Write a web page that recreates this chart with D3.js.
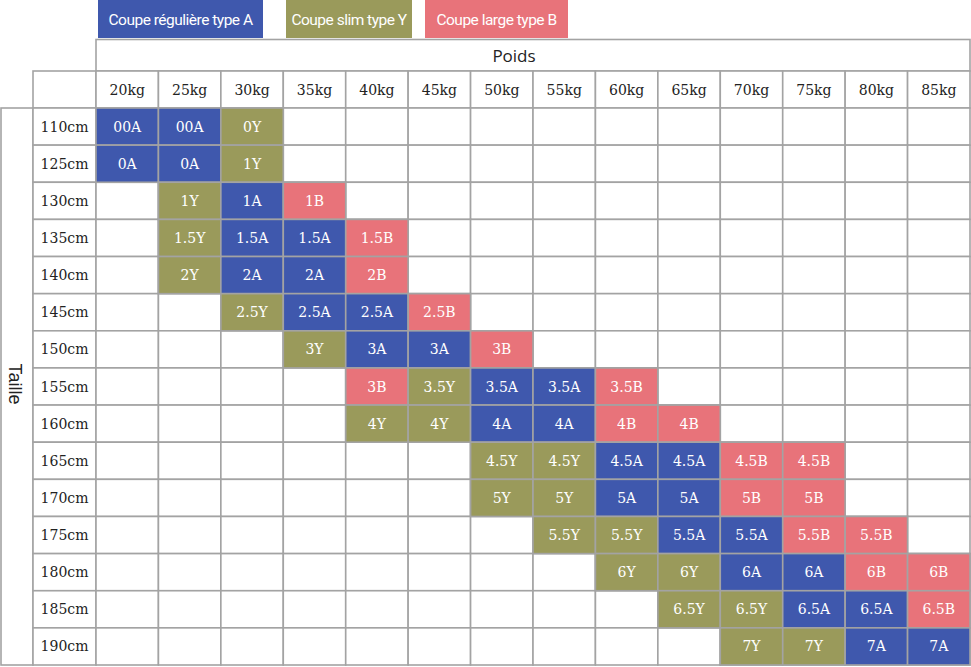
<!DOCTYPE html>
<html><head><meta charset="utf-8">
<script src="https://cdn.jsdelivr.net/npm/d3@7/dist/d3.min.js"></script>
<style>body{margin:0;background:#fff}svg{display:block}</style>
</head><body>
<svg id="c" width="971" height="667"></svg>
<script>
const weights = ["20kg","25kg","30kg","35kg","40kg","45kg","50kg","55kg","60kg","65kg","70kg","75kg","80kg","85kg"];
const heights = ["110cm","125cm","130cm","135cm","140cm","145cm","150cm","155cm","160cm","165cm","170cm","175cm","180cm","185cm","190cm"];
const legendLabels = ["Coupe régulière type A","Coupe slim type Y","Coupe large type B"];
const legendTypes = ["A","Y","B"];
const typeColors = {A:"#3f58ad", Y:"#9a9a5b", B:"#e8737a"};
const xTitle = "Poids";
const yTitle = "Taille";
// each row: [height, first weight, sizes...]
const sizeRows = [
  ["110cm","20kg",["00A","00A","0Y"]],
  ["125cm","20kg",["0A","0A","1Y"]],
  ["130cm","25kg",["1Y","1A","1B"]],
  ["135cm","25kg",["1.5Y","1.5A","1.5A","1.5B"]],
  ["140cm","25kg",["2Y","2A","2A","2B"]],
  ["145cm","30kg",["2.5Y","2.5A","2.5A","2.5B"]],
  ["150cm","35kg",["3Y","3A","3A","3B"]],
  ["155cm","40kg",["3B","3.5Y","3.5A","3.5A","3.5B"]],
  ["160cm","40kg",["4Y","4Y","4A","4A","4B","4B"]],
  ["165cm","50kg",["4.5Y","4.5Y","4.5A","4.5A","4.5B","4.5B"]],
  ["170cm","50kg",["5Y","5Y","5A","5A","5B","5B"]],
  ["175cm","55kg",["5.5Y","5.5Y","5.5A","5.5A","5.5B","5.5B"]],
  ["180cm","60kg",["6Y","6Y","6A","6A","6B","6B"]],
  ["185cm","65kg",["6.5Y","6.5Y","6.5A","6.5A","6.5B"]],
  ["190cm","70kg",["7Y","7Y","7A","7A"]]
];

const cells = [];
sizeRows.forEach(([h,w0,list])=>{
  const i0 = weights.indexOf(w0);
  list.forEach((s,k)=>cells.push({h, w:weights[i0+k], s, t:s.slice(-1)}));
});

const svg = d3.select("#c");
const gridCol = "#a3a3a3", sw = 1.6;
const serif = "'DejaVu Serif', serif";
const x = d3.scaleBand().domain(weights).range([96,970]);
const y = d3.scaleBand().domain(heights).range([108,665]);
const headTop = 39.5, kgTop = 71, labelLeft = 33, taLeft = 1;

// Legend
const legX = d3.scaleOrdinal().domain(legendTypes).range([98,286,425]);
const legW = d3.scaleOrdinal().domain(legendTypes).range([165,126,143]);
const lg = svg.append("g");
legendTypes.forEach((t,i)=>{
  lg.append("rect").attr("x",legX(t)).attr("y",0).attr("width",legW(t)).attr("height",38).attr("fill",typeColors[t]);
  lg.append("text").attr("x",legX(t)+legW(t)/2).attr("y",24.5).attr("text-anchor","middle")
    .attr("fill","#fff").attr("font-family","Roboto, sans-serif").attr("font-size",15.5)
    .attr("letter-spacing",-0.5).text(legendLabels[i]);
});

// Poids header
svg.append("rect").attr("x",96).attr("y",headTop).attr("width",874).attr("height",kgTop-headTop)
  .attr("fill","#fff").attr("stroke",gridCol).attr("stroke-width",sw);
svg.append("text").attr("x",514).attr("y",62).attr("text-anchor","middle")
  .attr("font-family","'Open Sans', sans-serif").attr("font-size",17).attr("fill","#222").text(xTitle);

// kg row
svg.append("rect").attr("x",labelLeft).attr("y",kgTop).attr("width",96-labelLeft).attr("height",108-kgTop)
  .attr("fill","#fff").attr("stroke",gridCol).attr("stroke-width",sw);
svg.append("g").selectAll("rect").data(weights).join("rect")
  .attr("x",d=>x(d)).attr("y",kgTop).attr("width",x.bandwidth()).attr("height",108-kgTop)
  .attr("fill","#fff").attr("stroke",gridCol).attr("stroke-width",sw);
svg.append("g").selectAll("text").data(weights).join("text")
  .attr("x",d=>x(d)+x.bandwidth()/2).attr("y",kgTop+(108-kgTop)/2+5)
  .attr("text-anchor","middle").attr("font-family",serif).attr("font-size",14).attr("fill","#222").text(d=>d);

// Taille column
svg.append("rect").attr("x",taLeft).attr("y",108).attr("width",labelLeft-taLeft).attr("height",665-108)
  .attr("fill","#fff").attr("stroke",gridCol).attr("stroke-width",sw);
svg.append("text").attr("transform",`translate(9,384) rotate(90)`).attr("text-anchor","middle")
  .attr("font-family","'Liberation Sans', Arial, sans-serif").attr("font-size",18).attr("fill","#222").text(yTitle);

// height labels
svg.append("g").selectAll("rect").data(heights).join("rect")
  .attr("x",labelLeft).attr("y",d=>y(d)).attr("width",96-labelLeft).attr("height",y.bandwidth())
  .attr("fill","#fff").attr("stroke",gridCol).attr("stroke-width",sw);
svg.append("g").selectAll("text").data(heights).join("text")
  .attr("x",(labelLeft+96)/2).attr("y",d=>y(d)+y.bandwidth()/2+5)
  .attr("text-anchor","middle").attr("font-family",serif).attr("font-size",14).attr("fill","#222").text(d=>d);

// empty grid
const all = [];
heights.forEach(h=>weights.forEach(w=>all.push({h,w})));
svg.append("g").selectAll("rect").data(all).join("rect")
  .attr("x",d=>x(d.w)).attr("y",d=>y(d.h)).attr("width",x.bandwidth()).attr("height",y.bandwidth())
  .attr("fill","#fff").attr("stroke",gridCol).attr("stroke-width",sw);

// filled cells
svg.append("g").selectAll("rect").data(cells).join("rect")
  .attr("x",d=>x(d.w)).attr("y",d=>y(d.h)).attr("width",x.bandwidth()).attr("height",y.bandwidth())
  .attr("fill",d=>typeColors[d.t]).attr("stroke",gridCol).attr("stroke-width",sw);
svg.append("g").selectAll("text").data(cells).join("text")
  .attr("x",d=>x(d.w)+x.bandwidth()/2).attr("y",d=>y(d.h)+y.bandwidth()/2+5)
  .attr("text-anchor","middle").attr("font-family",serif).attr("font-size",14).attr("fill","#fff").text(d=>d.s);
</script>
</body></html>
